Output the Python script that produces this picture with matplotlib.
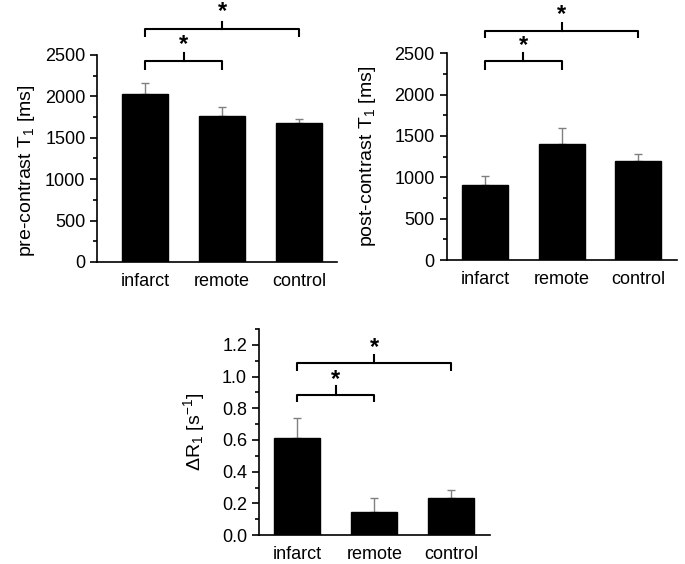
import matplotlib
matplotlib.use("Agg")
import matplotlib.pyplot as plt
from matplotlib.ticker import MultipleLocator

plt.rcParams['font.family'] = ['Liberation Sans', 'DejaVu Sans']
plt.rcParams['mathtext.fontset'] = 'custom'
plt.rcParams['mathtext.rm'] = 'Liberation Sans'
plt.rcParams['mathtext.it'] = 'Liberation Sans:italic'

groups = ['infarct', 'remote', 'control']

pre_t1 = [2030, 1763, 1675]
pre_t1_err = [128, 113, 48]

post_t1 = [907, 1399, 1201]
post_t1_err = [113, 198, 81]

delta_r1 = [0.613, 0.148, 0.236]
delta_r1_err = [0.127, 0.085, 0.049]


def bracket(ax, i, j, y, drop, tip, star_y):
    # significance bracket between group i and group j
    x1, x2 = i + 1, j + 1
    xm = (x1 + x2) / 2
    ax.plot([x1, x1, x2, x2], [y - drop, y, y, y - drop], color='black',
            lw=1.5, clip_on=False, solid_capstyle='butt')
    ax.plot([xm, xm], [y, y + tip], color='black', lw=1.5, clip_on=False)
    ax.text(xm, star_y, '*', ha='center', va='center', fontsize=17,
            fontweight='bold', clip_on=False)


def bar_panel(ax, vals, errs, ymax, major, minor, xlim, ylabel):
    x = [1, 2, 3]
    ax.bar(x, vals, width=0.6, color='black', edgecolor='black', zorder=2)
    ax.errorbar(x, vals, yerr=[[0, 0, 0], errs], fmt='none', ecolor='#808080',
                elinewidth=1, capsize=3, capthick=1, zorder=1)
    ax.set_xlim(*xlim)
    ax.set_ylim(0, ymax)
    ax.set_xticks(x)
    ax.set_xticklabels(groups, fontsize=13)
    ax.tick_params(axis='x', length=0, pad=8)
    ax.yaxis.set_major_locator(MultipleLocator(major))
    ax.yaxis.set_minor_locator(MultipleLocator(minor))
    ax.tick_params(axis='y', which='major', length=5, width=1.2, labelsize=13)
    ax.tick_params(axis='y', which='minor', length=3, width=1.2)
    ax.spines['top'].set_visible(False)
    ax.spines['right'].set_visible(False)
    for s in ('left', 'bottom'):
        ax.spines[s].set_linewidth(1.2)
    ax.set_ylabel(ylabel, fontsize=14)


fig = plt.figure(figsize=(6.85, 5.64), dpi=100)

ax1 = fig.add_axes([0.142, 0.5355, 0.350, 0.367])
bar_panel(ax1, pre_t1, pre_t1_err, 2500, 500, 250, (0.38, 3.49),
          'pre-contrast T$_\\mathregular{1}$ [ms]')
ax1.yaxis.set_label_coords(-0.252, 0.44)
bracket(ax1, 0, 2, 2810, 93, 92, 3020)
bracket(ax1, 0, 1, 2428, 109, 96, 2630)

ax2 = fig.add_axes([0.652, 0.539, 0.3358, 0.3665])
bar_panel(ax2, post_t1, post_t1_err, 2500, 500, 250, (0.5, 3.5),
          'post-contrast T$_\\mathregular{1}$ [ms]')
ax2.yaxis.set_label_coords(-0.299, 0.5)
bracket(ax2, 0, 2, 2770, 89, 100, 2975)
bracket(ax2, 0, 1, 2407, 109, 93, 2590)

ax3 = fig.add_axes([0.378, 0.0514, 0.337, 0.365])
bar_panel(ax3, delta_r1, delta_r1_err, 1.3, 0.2, 0.1, (0.5, 3.5),
          '\u0394R$_\\mathregular{1}$ [s$^\\mathregular{-1}$]')
ax3.set_yticks([0, 0.2, 0.4, 0.6, 0.8, 1.0, 1.2])
ax3.set_yticklabels(['0.0', '0.2', '0.4', '0.6', '0.8', '1.0', '1.2'])
ax3.yaxis.set_label_coords(-0.225, 0.5)
bracket(ax3, 0, 2, 1.088, 0.053, 0.047, 1.185)
bracket(ax3, 0, 1, 0.887, 0.048, 0.053, 0.985)

fig.savefig('out.png', dpi=100)
